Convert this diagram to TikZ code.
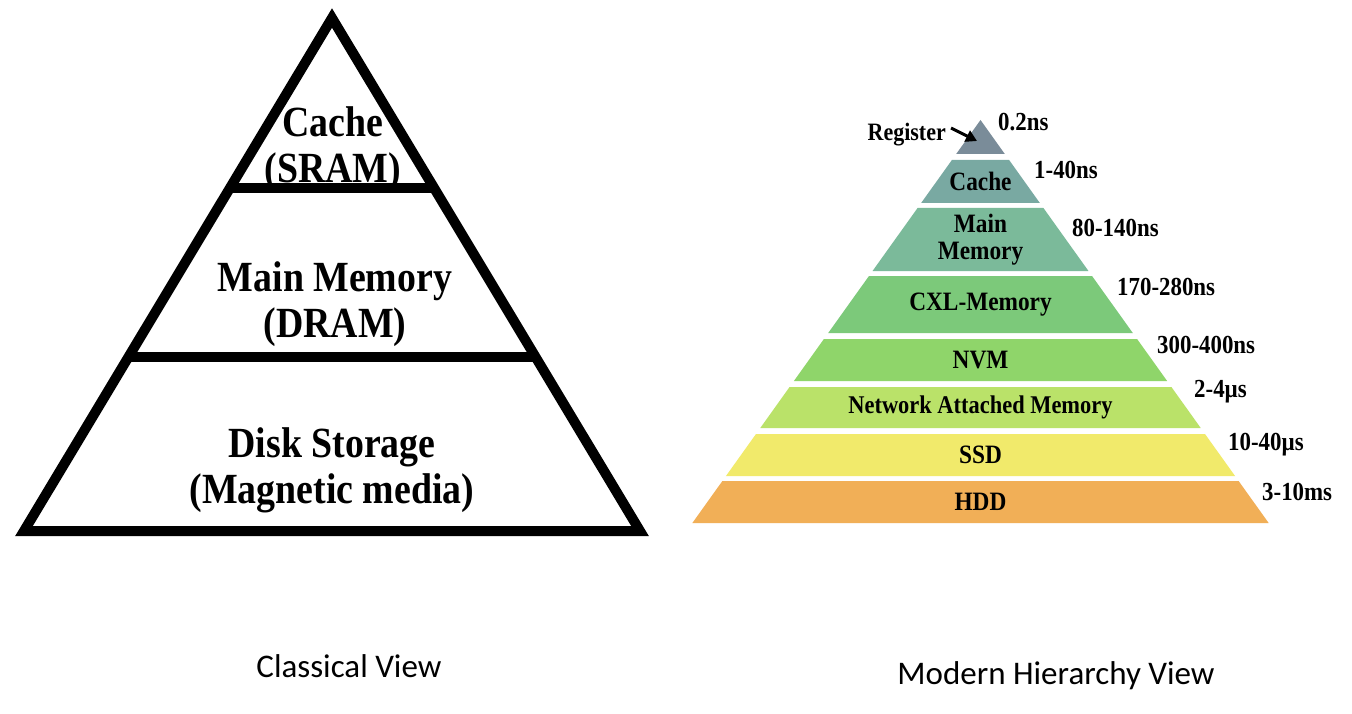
\documentclass[tikz,border=0pt]{standalone}
\usepackage{fontspec}
\setmainfont[FakeStretch=0.88]{Liberation Serif}
\newfontfamily\calibfont{Carlito}
\usetikzlibrary{arrows.meta}
\definecolor{cReg}{HTML}{7A8C99}
\definecolor{cCache}{HTML}{79A9A2}
\definecolor{cMain}{HTML}{7BBA9A}
\definecolor{cCXL}{HTML}{7CC97A}
\definecolor{cNVM}{HTML}{8FD56A}
\definecolor{cNAM}{HTML}{BAE269}
\definecolor{cSSD}{HTML}{F1EA6B}
\definecolor{cHDD}{HTML}{F1AF57}
\newcommand{\pyrlayer}[5]{%
  \fill[#3] ({980.5-0.715*(#1-120)},#1) -- ({980.5+0.715*(#1-120)},#1) --
    ({980.5+0.715*(#2-120)},#2) -- ({980.5-0.715*(#2-120)},#2) -- cycle;
  \node[laytext] (#4) at (980.5,{(#1+#2)/2}) {#5};}
\begin{document}
\begin{tikzpicture}[x=1pt,y=-1pt,
  classic/.style={line width=10pt,line join=miter},
  bigtext/.style={font=\bfseries\fontsize{43}{46}\selectfont,align=center,inner sep=0pt},
  laytext/.style={font=\bfseries\fontsize{26.5}{27}\selectfont,align=center,inner sep=0pt},
  lattext/.style={font=\bfseries\fontsize{26}{27}\selectfont,anchor=west,inner sep=0pt},
  captext/.style={font=\calibfont\fontsize{33}{38}\selectfont,inner sep=0pt}]
\useasboundingbox[fill=white] (0,0) rectangle (1352,714);
% ---------- classical view ----------
\coordinate (A) at (332,18);
\coordinate (BL) at (24,531);
\coordinate (BR) at (640,531);
\draw[classic] (A) -- (BL) -- (BR) -- cycle;
\coordinate (d1l) at (230,188);
\coordinate (d1r) at (434,188);
\coordinate (d2l) at (128,357);
\coordinate (d2r) at (536,357);
\draw[classic] (d1l) -- (d1r);
\draw[classic] (d2l) -- (d2r);
\node[bigtext] (cache) at (333,149) {Cache\\(SRAM)};
\node[bigtext] (mainm) at (335,304) {Main Memory\\(DRAM)};
\node[bigtext] (disk) at (332,470) {Disk Storage\\(Magnetic media)};
\node[captext] (classcap) at (349,666) {Classical View};
% ---------- modern view ----------
\fill[cReg] (980.5,120) -- (1004.8,154) -- (956.2,154) -- cycle;
\coordinate (regtip) at (977,141);
\pyrlayer{160}{203}{cCache}{lcache}{Cache}
\pyrlayer{208}{271}{cMain}{lmain}{Main\\Memory}
\pyrlayer{276}{333}{cCXL}{lcxl}{CXL-Memory}
\pyrlayer{339}{381}{cNVM}{lnvm}{NVM}
\pyrlayer{387}{428}{cNAM}{lnam}{\fontsize{25.5}{26}\selectfont Network Attached Memory}
\pyrlayer{434}{476}{cSSD}{lssd}{SSD}
\pyrlayer{481}{523}{cHDD}{lhdd}{HDD}
\node[font=\bfseries\fontsize{25}{26}\selectfont,anchor=east,inner sep=0pt] (reg) at (946,135) {Register};
\draw[line width=3pt,-{Triangle[length=11pt,width=12pt]}] ([xshift=5pt,yshift=7pt]reg.east) -- (regtip);
\node[lattext] (t0) at (998,122) {0.2ns};
\node[lattext] (t1) at (1034,170) {1-40ns};
\node[lattext] (t2) at (1072,228) {80-140ns};
\node[lattext] (t3) at (1117,287) {170-280ns};
\node[lattext] (t4) at (1157,345) {300-400ns};
\node[lattext] (t5) at (1194,392) {2-4µs};
\node[lattext] (t6) at (1228,445) {10-40µs};
\node[lattext] (t7) at (1262,492) {3-10ms};
\node[captext] (modcap) at (1056,676) {Modern Hierarchy View};
\end{tikzpicture}
\end{document}
